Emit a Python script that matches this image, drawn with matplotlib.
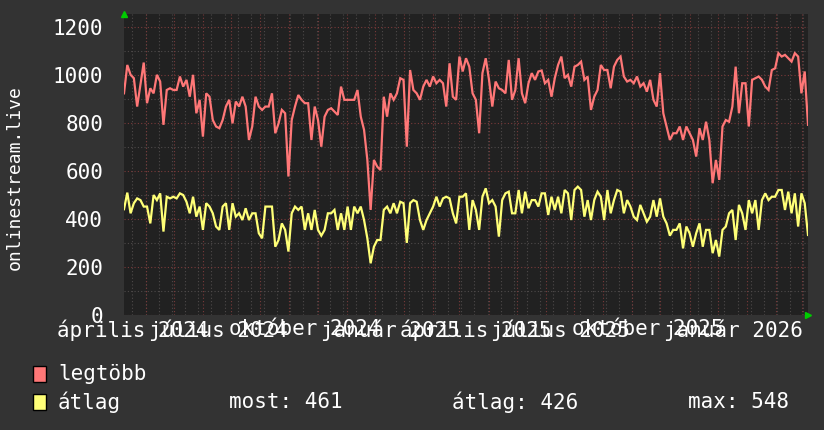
import matplotlib
matplotlib.use("Agg")
import matplotlib.pyplot as plt
from matplotlib.patches import Rectangle
import pandas as pd

# ---------------- data ----------------
start_date = "2024-03-09"
end_date = "2026-03-07"
step = "84h"  # two samples per week

max_values = [
    922, 1040, 999, 985, 867, 957, 1050, 881, 943, 922,
    999, 971, 791, 936, 943, 936, 936, 992, 950, 978,
    908, 999, 839, 895, 742, 922, 908, 811, 784, 777,
    811, 867, 895, 797, 888, 867, 908, 867, 728, 784,
    908, 867, 853, 867, 867, 922, 756, 797, 853, 839,
    576, 811, 867, 915, 895, 881, 881, 728, 867, 811,
    700, 825, 853, 860, 846, 832, 950, 895, 895, 895,
    895, 936, 825, 770, 645, 437, 645, 617, 603, 908,
    825, 922, 895, 922, 985, 978, 700, 1019, 936, 922,
    895, 950, 978, 950, 992, 964, 978, 964, 867, 1047,
    908, 895, 1075, 1013,
    1068, 1033, 922, 895, 756, 1006, 1068, 978, 867, 971,
    943, 936, 922, 1061, 895, 936, 1068, 922, 881, 964,
    1006, 978, 1013, 1017, 964, 978, 908, 985, 1040, 1075,
    985, 999, 950, 1033, 1040, 1054, 978, 992, 853, 908,
    936, 1040, 1019, 1019, 943, 1033, 1061, 1075, 992, 971,
    978, 964, 992, 950, 964, 929, 978, 895, 867, 1006,
    839, 784, 728, 756, 756, 784, 728, 784, 756, 728,
    659, 777, 728, 804, 728, 548, 645, 562, 784, 811,
    804, 867, 1033, 839, 964, 964, 784, 978, 985, 992,
    978, 950, 936, 1019, 1026, 1089, 1075, 1082, 1068, 1054,
    1089, 1075, 922, 1013, 791,
]

avg_values = [
    440, 509, 423, 465, 485, 478, 451, 451, 381, 499,
    478, 506, 347, 492, 485, 492, 485, 506, 499, 471,
    423, 492, 409, 451, 354, 465, 451, 423, 368, 354,
    451, 465, 354, 465, 409, 423, 395, 444, 395, 423,
    423, 340, 319, 451, 451, 451, 284, 312, 381, 354,
    264, 423, 451, 437, 451, 354, 423, 354, 437, 354,
    330, 354, 423, 423, 437, 354, 423, 354, 451, 354,
    451, 423, 451, 395, 319, 215, 284, 312, 312, 437,
    451, 423, 465, 423, 471, 465, 300, 465, 478, 471,
    395, 354, 395, 423, 451, 492, 451, 485, 492, 485,
    423, 381, 492, 492,
    506, 354, 478, 437, 354, 492, 527, 465, 478, 451,
    326, 478, 506, 513, 423, 423, 520, 423, 513, 444,
    478, 478, 451, 506, 506, 416, 492, 437, 492, 423,
    520, 506, 395, 520, 534, 520, 409, 478, 395, 478,
    513, 492, 395, 520, 423, 478, 520, 513, 423, 478,
    451, 409, 395, 458, 423, 388, 409, 478, 409, 485,
    409, 381, 330, 354, 354, 381, 277, 368, 340, 284,
    340, 381, 284, 354, 354, 257, 312, 243, 354, 368,
    423, 437, 312, 458, 423, 354, 478, 423, 478, 354,
    478, 506, 478, 492, 492, 520, 520, 437, 513, 423,
    506, 368, 506, 465, 333,
]

series_names = ["legtöbb", "átlag"]
quarter_dates = ["2024-04-01", "2024-07-01", "2024-10-01", "2025-01-01",
                 "2025-04-01", "2025-07-01", "2025-10-01", "2026-01-01"]
quarter_labels = ["április 2024", "július 2024", "október 2024", "január 2025",
                  "április 2025", "július 2025", "október 2025", "január 2026"]
y_ticks = [0, 200, 400, 600, 800, 1000, 1200]
stat_texts = ["most: 461", "átlag: 426", "max: 548"]
y_title = "onlinestream.live"

# ---------------- style ----------------
W, H = 824, 430
BG = "#333333"
PLOT_BG = "#212121"
RED = "#FF7777"
YEL = "#FFFF77"
MAJ = "#7a3a3a"
MIN = "#4e4a4a"
FONT = "DejaVu Sans Mono"

dates = pd.date_range(start_date, periods=len(max_values), freq=step)

fig = plt.figure(figsize=(W / 100, H / 100), dpi=100, facecolor=BG)
L, R, T, B = 124, 808, 14, 315
ax = fig.add_axes([L / W, (H - B) / H, (R - L) / W, (B - T) / H])
ax.set_facecolor(PLOT_BG)
ax.set_xlim(pd.Timestamp(start_date), pd.Timestamp(end_date))
ax.set_ylim(0, 1252)
for s in ax.spines.values():
    s.set_visible(False)

# grid
minor_x = pd.date_range("2024-03-18", end_date, freq="14D")
major_x = pd.date_range("2024-04-01", end_date, freq="MS")
dot = (0, (1, 2))
for d in minor_x:
    ax.axvline(d, color=MIN, lw=0.8, ls=dot, zorder=1)
for d in major_x:
    ax.axvline(d, color=MAJ, lw=0.8, ls=dot, zorder=1.2)
for v in range(100, 1300, 200):
    ax.axhline(v, color=MIN, lw=0.8, ls=dot, zorder=1)
for v in y_ticks:
    ax.axhline(v, color=MAJ, lw=0.8, ls=dot, zorder=1.2)

# series
ax.plot(dates, max_values, color=RED, lw=1.6, zorder=3, solid_joinstyle="miter")
ax.plot(dates, avg_values, color=YEL, lw=1.6, zorder=3, solid_joinstyle="miter")

# ticks
label_pos = [pd.Timestamp(d) - pd.Timedelta(days=14) for d in quarter_dates]
ax.set_xticks(label_pos)
ax.set_xticklabels(quarter_labels, fontsize=15, family=FONT, color="white")
ax.set_yticks(y_ticks)
ax.set_yticklabels([str(v) for v in y_ticks], fontsize=15, family=FONT, color="white")
ax.tick_params(axis="both", length=0)
ax.tick_params(axis="y", pad=15)
ax.tick_params(axis="x", pad=3)

# axis arrows
ax.plot([0], [1.0], marker="^", color="#00cc00", ms=5, transform=ax.transAxes, clip_on=False)
ax.plot([1.0], [0], marker=">", color="#00cc00", ms=5, transform=ax.transAxes, clip_on=False)

# y title
fig.text(15 / W, 1 - 178 / H, y_title, rotation=90, ha="center", va="center",
         fontsize=13, family=FONT, color="white")

# legend
colors = [RED, YEL]
ys = [374, 402]
for name, c, yy in zip(series_names, colors, ys):
    fig.patches.append(Rectangle(((33) / W, 1 - (yy + 8) / H), 13 / W, 16 / H,
                                 transform=fig.transFigure, facecolor=c,
                                 edgecolor="black", lw=1))
    fig.text(58 / W, 1 - yy / H, name, ha="left", va="center",
             fontsize=15, family=FONT, color="white")
for txt, xx in zip(stat_texts, [229, 452, 688]):
    fig.text(xx / W, 1 - 402 / H, txt, ha="left", va="center",
             fontsize=15, family=FONT, color="white")

fig.savefig("out.png", dpi=100, facecolor=BG)
